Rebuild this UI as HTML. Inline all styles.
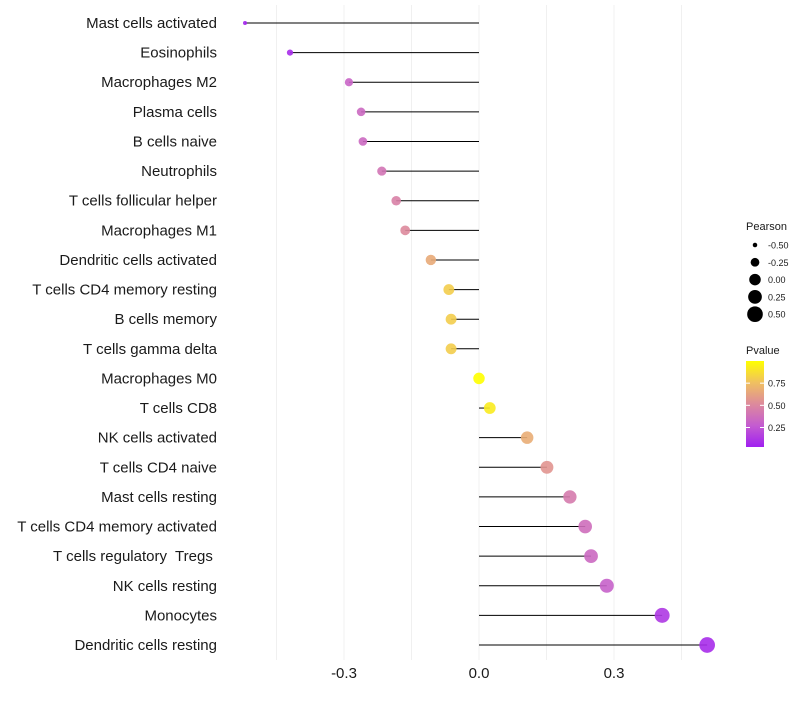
<!DOCTYPE html>
<html><head><meta charset="utf-8"><style>
body{margin:0;background:#fff;font-family:"Liberation Sans",sans-serif;}
text{white-space:pre;}
</style></head><body>
<svg id="c" width="800" height="700" xmlns="http://www.w3.org/2000/svg"></svg>
<script>
const categories=["Mast cells activated","Eosinophils","Macrophages M2","Plasma cells","B cells naive","Neutrophils","T cells follicular helper","Macrophages M1","Dendritic cells activated","T cells CD4 memory resting","B cells memory","T cells gamma delta","Macrophages M0","T cells CD8","NK cells activated","T cells CD4 naive","Mast cells resting","T cells CD4 memory activated","T cells regulatory  Tregs ","NK cells resting","Monocytes","Dendritic cells resting"];
const pearson=[-0.52,-0.42,-0.289,-0.262,-0.258,-0.216,-0.184,-0.164,-0.107,-0.067,-0.062,-0.062,0.0,0.024,0.107,0.151,0.202,0.236,0.249,0.284,0.407,0.507];
const pvalue=[0.02,0.05,0.3,0.32,0.32,0.38,0.45,0.5,0.65,0.8,0.8,0.8,1.0,0.92,0.66,0.55,0.42,0.35,0.32,0.28,0.1,0.05];
const xTicks=[-0.3,0,0.3];
const xTickLabels=["-0.3","0.0","0.3"];
const gridVals=[-0.45,-0.3,-0.15,0,0.15,0.3,0.45];
const sizeLegend=[-0.5,-0.25,0,0.25,0.5];
const sizeLegendLabels=["-0.50","-0.25","0.00","0.25","0.50"];
const colorTicks=[0.25,0.5,0.75];
const colorTickLabels=["0.25","0.50","0.75"];

const svg=document.getElementById('c');const NS="http://www.w3.org/2000/svg";
function mk(t,a,p){const e=document.createElementNS(NS,t);for(const k in a)e.setAttribute(k,a[k]);(p||svg).appendChild(e);return e;}
const x=v=>479+v*450;
const y=i=>23+i*(622/21);
const r=v=>Math.sqrt(Math.max(1,4+(v+0.52)*56));
const stops=[[0,[160,32,240]],[0.25,[196,92,208]],[0.5,[221,138,156]],[0.75,[240,192,96]],[1,[255,255,0]]];
function col(p){for(let i=1;i<stops.length;i++){if(p<=stops[i][0]){const a=stops[i-1],b=stops[i];const t=(p-a[0])/(b[0]-a[0]);const c=a[1].map((v,k)=>Math.round(v+(b[1][k]-v)*t));return`rgb(${c})`;}}return'rgb(255,255,0)';}
const grid=mk('g',{});
gridVals.forEach(v=>{const l=mk('line',{x1:x(v),x2:x(v),y1:5,y2:660,stroke:'#f0f0f0','stroke-width':1},grid);});
categories.forEach((c,i)=>{
 const t=mk('text',{x:217,y:y(i)+5,'text-anchor':'end','font-size':15,fill:'#1a1a1a'});t.textContent=c;
 
 const l=mk('line',{x1:x(0),x2:x(pearson[i]),y1:y(i),y2:y(i),stroke:'#000','stroke-width':1});
 
 const d=mk('circle',{cx:x(pearson[i]),cy:y(i),r:r(pearson[i]),fill:col(pvalue[i]),'fill-opacity':0.9});
 
});
xTicks.forEach((v,i)=>{const t=mk('text',{x:x(v),y:678,'text-anchor':'middle','font-size':15,fill:'#1a1a1a'});t.textContent=xTickLabels[i];});
const lg=mk('g',{});
let t=mk('text',{x:746,y:230,'font-size':11,fill:'#1a1a1a'},lg);t.textContent='Pearson';
sizeLegend.forEach((v,i)=>{const cy=245+i*17.3;const c=mk('circle',{cx:755,cy:cy,r:r(v),fill:'#000'},lg);
 const tt=mk('text',{x:768,y:cy+3.5,'font-size':9,fill:'#1a1a1a'},lg);tt.textContent=sizeLegendLabels[i];});
t=mk('text',{x:746,y:354,'font-size':11,fill:'#1a1a1a'},lg);t.textContent='Pvalue';
const defs=mk('defs',{});const gr=mk('linearGradient',{id:'g',x1:0,y1:1,x2:0,y2:0},defs);
stops.forEach(s=>mk('stop',{offset:s[0],'stop-color':col(s[0])},gr));
const cb=mk('rect',{x:746,y:361,width:18,height:86,fill:'url(#g)'},lg);
const cy=p=>447-(p-0.03)/(1-0.03)*86;
colorTicks.forEach((p,i)=>{mk('line',{x1:746,x2:750,y1:cy(p),y2:cy(p),stroke:'#fff'},lg);mk('line',{x1:760,x2:764,y1:cy(p),y2:cy(p),stroke:'#fff'},lg);
 const tt=mk('text',{x:768,y:cy(p)+3.5,'font-size':9,fill:'#1a1a1a'},lg);tt.textContent=colorTickLabels[i];});
</script>
</body></html>
